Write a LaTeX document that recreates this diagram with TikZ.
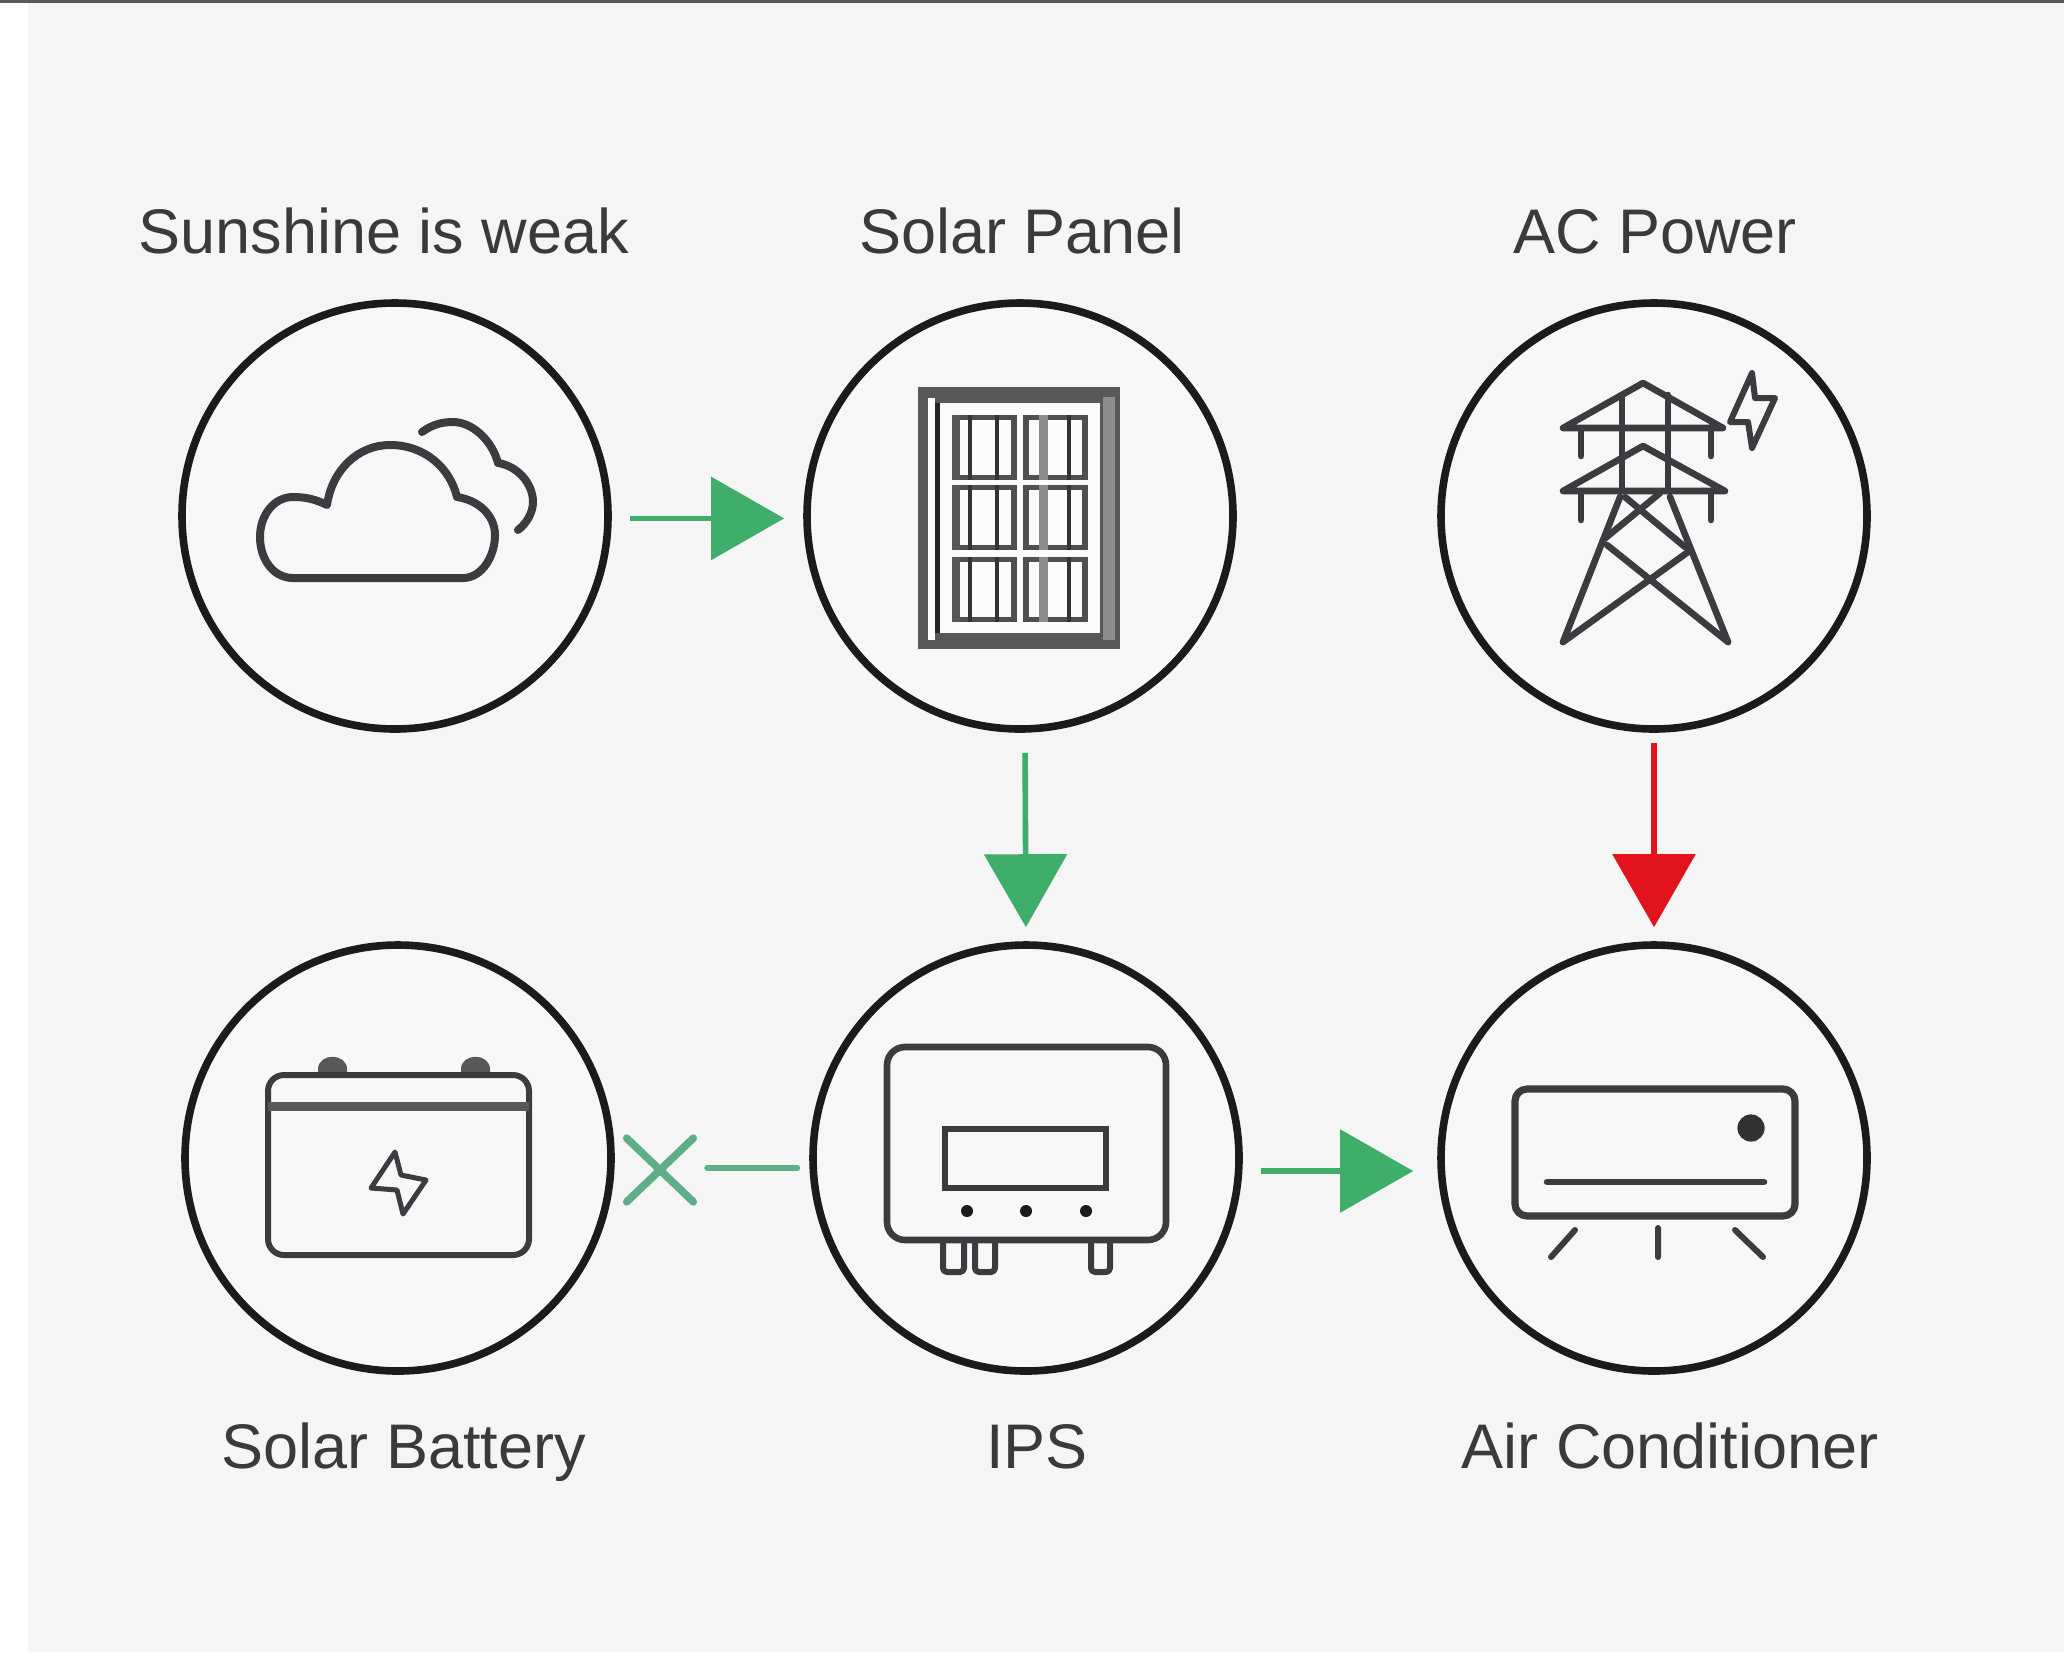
\documentclass[tikz,border=0pt]{standalone}
\usepackage{fontspec}
\setmainfont{Liberation Sans}
\usetikzlibrary{arrows.meta,shapes.misc}
\definecolor{bgcol}{HTML}{F5F5F5}
\definecolor{ringfill}{HTML}{F7F7F7}
\definecolor{flowgreen}{HTML}{3FAE6A}
\definecolor{flowred}{HTML}{E2131C}
\definecolor{mutedgreen}{HTML}{5FAE88}
\definecolor{ringcol}{HTML}{1B1B1D}
\definecolor{iconcol}{HTML}{3C3C40}
\definecolor{framecol}{HTML}{58585A}
\definecolor{labelcol}{HTML}{3A3A3C}
\tikzset{
  x=0.5pt,y=-0.5pt,
  ring/.style={circle,draw=ringcol,line width=3.8pt,minimum size=213pt,inner sep=0pt,fill=ringfill},
  label text/.style={anchor=base,text=labelcol,font=\fontsize{31.5pt}{36pt}\selectfont,inner sep=0pt},
  flow/.style={line width=2.8pt,draw=#1,-{Triangle[length=36.5pt,width=41pt,fill=#1]}},
  cloud line/.style={draw=iconcol,line width=4pt,line join=round,line cap=round},
  icon/.style={draw=iconcol,line width=3.3pt,line join=round,line cap=round},
  thin icon/.style={draw=iconcol,line width=3pt,line join=round,line cap=round},
  blocked/.style={draw=mutedgreen,line width=3pt,line cap=round},
  cross mark/.style={cross out,draw=mutedgreen,line width=3.8pt,line cap=round,inner sep=0pt,minimum width=29.5pt,minimum height=28pt},
}
\begin{document}
\begin{tikzpicture}
\useasboundingbox (0,0) rectangle (2064,1660);
\fill[white] (0,0) rectangle (2064,1660);
\fill[bgcol] (28,3) rectangle (2064,1652);
\fill[black!65] (0,0) rectangle (2064,2.5);
% rings
\node[ring] (c1) at (395,516) {};
\node[ring] (c2) at (1020,516) {};
\node[ring] (c3) at (1654,516) {};
\node[ring] (c4) at (398,1158) {};
\node[ring] (c5) at (1026,1158) {};
\node[ring] (c6) at (1654,1158) {};
% labels
\node[label text] (l1) at (384,253) {Sunshine is weak};
\node[label text] (l2) at (1022,253) {Solar Panel};
\node[label text] (l3) at (1655,253) {AC Power};
\node[label text] (l4) at (404,1468) {Solar Battery};
\node[label text] (l5) at (1037,1468) {IPS};
\node[label text] (l6) at (1670,1468) {Air Conditioner};
% connectors
\draw[flow=flowgreen,shorten <=9pt,shorten >=9.5pt] ([yshift=-1.2pt]c1.east) -- ([yshift=-1.2pt]c2.west);
\draw[flow=flowgreen,shorten <=10pt,shorten >=7pt] ([xshift=2.5pt]c2.south) -- (c5.north);
\draw[flow=flowred,shorten <=5pt,shorten >=7pt] (c3.south) -- (c6.north);
\draw[flow=flowgreen,shorten <=9pt,shorten >=12pt] ([yshift=-6.5pt]c5.east) -- ([yshift=-6.5pt]c6.west);
\node[cross mark] (xmark) at (660,1170) {};
\draw[blocked,shorten <=6pt,shorten >=7pt] ([yshift=-5pt]c5.west) -- ([yshift=1pt]xmark.east);
% cloud
\draw[cloud line] (293,578) -- (463,578)
  .. controls (482,578) and (495,556) .. (495,535)
  .. controls (495,515) and (478,500) .. (457,497)
  .. controls (450,468) and (425,445) .. (390,445)
  .. controls (358,445) and (332,470) .. (327,505)
  .. controls (315,499) and (305,497) .. (293,497)
  .. controls (274,497) and (260,515) .. (260,537)
  .. controls (260,560) and (274,578) .. (293,578) -- cycle;
\draw[cloud line] (422,432) .. controls (433,424) and (443,422) .. (453,422)
  .. controls (472,422) and (492,440) .. (498,463)
  .. controls (518,466) and (533,484) .. (533,502)
  .. controls (533,513) and (526,524) .. (518,530);
% solar panel
\fill[framecol] (918,387) rectangle (1120,649);
\fill[black!45] (1103,397) rectangle (1115,640);
\fill[white!80!bgcol] (928,398) rectangle (935,640);
\fill[ringfill!50!white] (940,403) rectangle (1100,633);
\fill[black!85] (935,403) rectangle (940,633);
\foreach \yy in {415,485,557}{
  \foreach \xx/\va/\vb in {952/970/997,1023/1043/1069}{
    \fill[framecol!90!black] (\xx,\yy) rectangle ++(65,65);
    \fill[white!70!bgcol] (\xx+6,\yy+5) rectangle ++(53,55);
    \draw[black!80,line width=2.2pt] (\va,\yy) -- ++(0,65);
    \draw[black!80,line width=2.2pt] (\vb,\yy) -- ++(0,65);
  }
  \fill[framecol] (952,\yy) rectangle ++(8,65);
  \fill[black!45] (1039,\yy) rectangle ++(9,65);
}
% tower
\draw[icon] (1563,428) -- (1643,383) -- (1723,428) -- cycle;
\draw[icon] (1581,429) -- (1581,456) (1711,429) -- (1711,456);
\draw[icon] (1622,395) -- (1622,490) (1668,395) -- (1668,490);
\draw[icon] (1563,491) -- (1643,446) -- (1725,491) -- cycle;
\draw[icon] (1581,491) -- (1581,520) (1711,491) -- (1711,520);
\draw[icon] (1620,497) -- (1563,642) (1670,497) -- (1728,642);
\draw[icon] (1625,497) -- (1685,547) (1660,493) -- (1603,540);
\draw[icon] (1607,545) -- (1728,642) (1688,552) -- (1563,642);
\draw[thin icon] (1730,422) -- (1752,373) -- (1755,398) -- (1775,398) -- (1752,448) -- (1748,422) -- cycle;
% battery
\fill[framecol] (318,1074) -- (318,1068) .. controls (320,1053) and (345,1053) .. (347,1068) -- (347,1074) -- cycle;
\fill[framecol] (461,1074) -- (461,1068) .. controls (463,1053) and (488,1053) .. (490,1068) -- (490,1074) -- cycle;
\draw[thin icon,rounded corners=8pt] (268,1075) rectangle (529,1255);
\draw[framecol,line width=4.5pt] (268,1106) -- (529,1106);
\draw[thin icon,line width=2.5pt] (395,1152) -- (371,1188) -- (397,1190) -- (403,1214) -- (426,1180) -- (401,1175) -- cycle;
% inverter
\draw[icon,rounded corners=9pt] (887,1047) rectangle (1166,1240);
\draw[icon,line cap=butt,line join=miter] (945,1129) rectangle (1106,1188);
\foreach \dx in {967,1026,1086}{\fill[ringcol] (\dx,1211) circle (3pt);}
\foreach \fa/\fb in {943/964,975/995,1091/1110}{
  \draw[thin icon,rounded corners=2pt] (\fa,1244) -- (\fa,1272) -- (\fb,1272) -- (\fb,1244);
}
% air conditioner
\draw[icon,line width=3.6pt,rounded corners=6pt] (1515,1089) rectangle (1795,1216);
\fill[ringcol!90!white] (1751,1128) circle (6.8pt);
\draw[icon] (1547,1182) -- (1764,1182);
\draw[thin icon] (1575,1230) -- (1551,1257) (1658,1228) -- (1658,1257) (1735,1230) -- (1763,1257);
\end{tikzpicture}
\end{document}
